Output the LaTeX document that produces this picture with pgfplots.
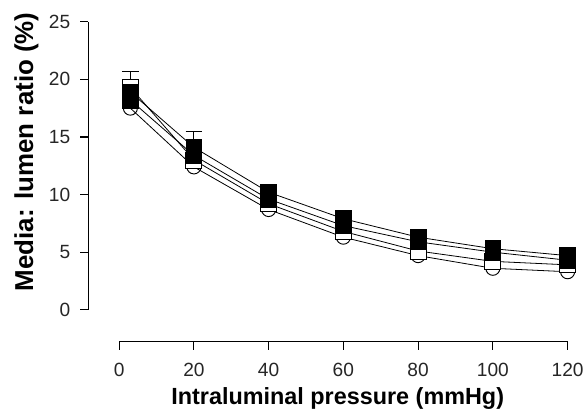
\documentclass[border=0pt]{standalone}
\usepackage{pgfplots}
\pgfplotsset{compat=1.18}
\usepackage{fontspec}
\setmainfont{Liberation Sans}
\begin{document}
\begin{tikzpicture}
\begin{axis}[
 scale only axis, width=337.5pt, height=216.75pt,
 xmin=0, xmax=120, ymin=0, ymax=25,
 axis lines=left, axis line style={-, line width=0.9pt, black},
 axis x line shift=24pt, axis y line shift=23.25pt,
 xtick={0,20,...,120}, ytick={0,5,...,25},
 tick align=outside, major tick length=6pt, tick style={line width=0.9pt, black},
 /pgf/number format/assume math mode=true,
 tick label style={font=\fontsize{14.4}{16}\selectfont, text=black!85},
 yticklabel style={xshift=-4pt},
 xticklabel style={yshift=-7pt},
 xlabel={Intraluminal pressure (mmHg)}, ylabel={Media: lumen ratio (\%)},
 every axis x label/.style={at={(axis description cs:0.5,0)}, anchor=center,
   yshift=-66.75pt, xshift=-4.25pt, font=\bfseries\fontsize{17.6}{19}\selectfont},
 every axis y label/.style={at={(axis description cs:0,0.5)}, anchor=center,
   xshift=-69.75pt, yshift=10.5pt, rotate=90, font=\bfseries\fontsize{19.5}{21}\selectfont},
 clip=false,
 every axis plot/.append style={line width=0.6pt, black},
]
% open circles
\addplot[mark=o, mark size=5.3pt, mark options={fill=white, line width=0.7pt}] coordinates {
 (3,17.5) (20,12.4) (40,8.7) (60,6.3) (80,4.7) (100,3.6) (120,3.3)};
% open squares
\addplot[mark=square*, mark size=6pt, mark options={fill=white, line width=0.7pt}] coordinates {
 (3,19.3) (20,13.0) (40,9.2) (60,6.8) (80,5.1) (100,4.2) (120,3.9)};
% filled squares
\addplot[mark=square*, mark size=6pt, mark options={fill=black}] coordinates {
 (3,18.2) (20,13.4) (40,9.6) (60,7.3) (80,5.9) (100,5.0) (120,4.3)};
\addplot[mark=square*, mark size=6pt, mark options={fill=black},
 error bars/.cd, y dir=plus, y explicit,
 error bar style={line width=0.8pt, black},
 error mark options={rotate=90, mark size=6.3pt, line width=0.8pt, black}]
 coordinates {
 (3,18.9) +- (0,1.8)
 (20,14.1) +- (0,1.4)
 (40,10.2) +- (0,0.7)
 (60,7.9) +- (0,0.4)
 (80,6.3) +- (0,0.4)
 (100,5.3) +- (0,0.4)
 (120,4.7) +- (0,0.3)};
\end{axis}
\path ([xshift=-7.5pt,yshift=6pt]current bounding box.north west);
\end{tikzpicture}
\end{document}
